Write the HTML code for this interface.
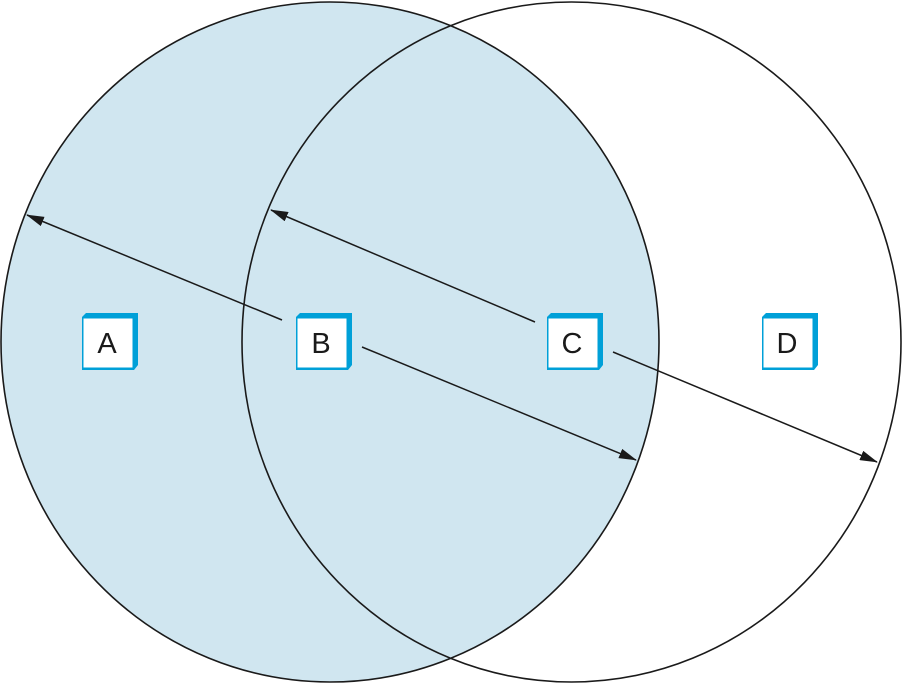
<!DOCTYPE html>
<html><head><style>body{margin:0;background:#fff}svg{display:block}</style></head><body>
<svg width="904" height="683" viewBox="0 0 904 683" xmlns="http://www.w3.org/2000/svg">
<defs><marker id="ar" markerWidth="18" markerHeight="10" refX="17" refY="5" orient="auto" markerUnits="userSpaceOnUse"><path d="M0,0 L18,5 L0,10 z" fill="#1a1a1a"/></marker></defs>
<ellipse cx="330" cy="342" rx="329" ry="340" fill="#d0e6f0" stroke="#1a1a1a" stroke-width="1.6"/>
<ellipse cx="571.5" cy="342" rx="329.5" ry="340" fill="none" stroke="#1a1a1a" stroke-width="1.6"/>
<g stroke="#1a1a1a" stroke-width="1.5" marker-end="url(#ar)">
<line x1="282" y1="320" x2="27" y2="215"/>
<line x1="362" y1="347" x2="636" y2="460"/>
<line x1="535" y1="322" x2="271" y2="210"/>
<line x1="613" y1="352" x2="877" y2="462"/>
</g>
<g font-family="Liberation Sans, sans-serif" font-size="29" text-anchor="middle" fill="#1a1a1a">
<g transform="translate(82,313)"><path d="M0,4 L4,0 L56,0 L56,52 L52,57 L0,57 z" fill="#00a0d8"/><rect x="1.5" y="5.5" width="49" height="49" fill="#fff"/><text x="25" y="40">A</text></g>
<g transform="translate(296,313)"><path d="M0,4 L4,0 L56,0 L56,52 L52,57 L0,57 z" fill="#00a0d8"/><rect x="1.5" y="5.5" width="49" height="49" fill="#fff"/><text x="25" y="40">B</text></g>
<g transform="translate(547,313)"><path d="M0,4 L4,0 L56,0 L56,52 L52,57 L0,57 z" fill="#00a0d8"/><rect x="1.5" y="5.5" width="49" height="49" fill="#fff"/><text x="25" y="40">C</text></g>
<g transform="translate(762,313)"><path d="M0,4 L4,0 L56,0 L56,52 L52,57 L0,57 z" fill="#00a0d8"/><rect x="1.5" y="5.5" width="49" height="49" fill="#fff"/><text x="25" y="40">D</text></g>
</g>
</svg>
</body></html>
